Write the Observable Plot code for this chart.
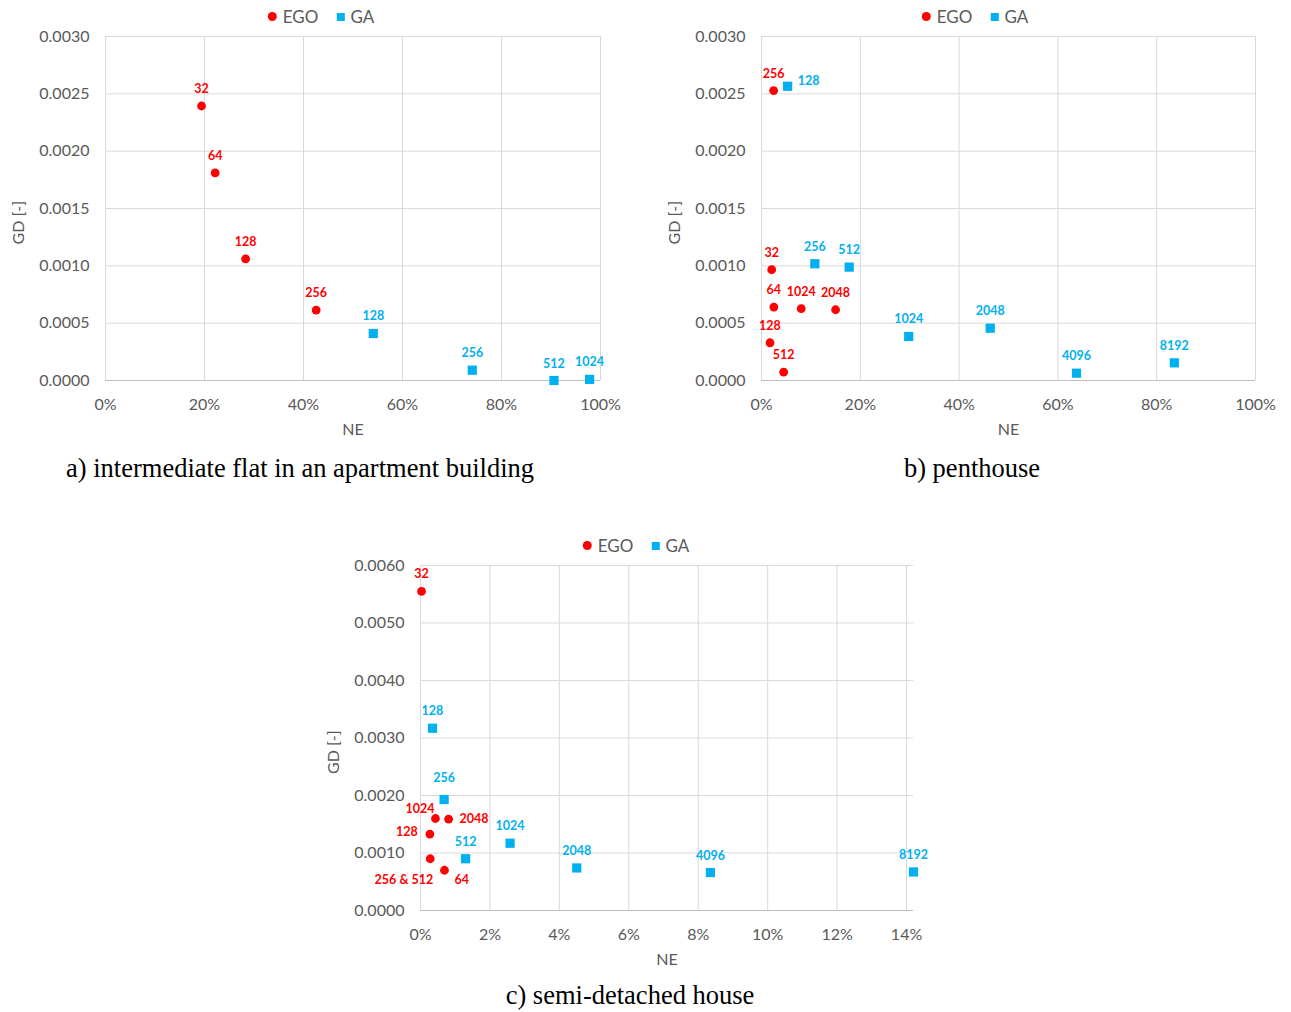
<!DOCTYPE html>
<html>
<head>
<meta charset="utf-8">
<script src="https://cdn.jsdelivr.net/npm/d3@7"></script>
<script src="https://cdn.jsdelivr.net/npm/@observablehq/plot@0.6"></script>
<style>
  body { margin: 0; background: #fff; }
  #page { position: relative; width: 1291px; height: 1012px; overflow: hidden; background: #fff; }
  .panel { position: absolute; }
  .legend {
    position: absolute; transform: translateX(-50%); display: flex; align-items: center;
    font: 17px Lato, sans-serif; color: #595959; white-space: nowrap; line-height: 1;
  }
  .legend .sw { display: inline-block; margin-right: 6px; }
  .legend .item { display: inline-flex; align-items: center; margin: 0 9px; }
  .caption {
    position: absolute; transform: translateX(-50%); white-space: nowrap;
    font: 26.5px "Liberation Serif", "Times New Roman", serif; line-height: 1; color: #000;
  }
</style>
</head>
<body>
<div id="page"></div>
<script>
// ---- a) intermediate flat in an apartment building ----
const flatEgoLabels = ["32", "64", "128", "256"];
const flatEgoNE = [0.194, 0.2215, 0.283, 0.4256];
const flatEgoGD = [0.002394, 0.00181, 0.00106, 0.000614];
const flatGaLabels = ["128", "256", "512", "1024"];
const flatGaNE = [0.541, 0.741, 0.906, 0.978];
const flatGaGD = [0.00041, 0.00009, 0.0, 0.00001];

// ---- b) penthouse ----
const pentEgoLabels = ["32", "64", "128", "256", "512", "1024", "2048"];
const pentEgoNE = [0.0206, 0.025, 0.0172, 0.0246, 0.0449, 0.0804, 0.150];
const pentEgoGD = [0.000966, 0.00064, 0.000329, 0.002528, 0.0000724, 0.000626, 0.000617];
const pentGaLabels = ["128", "256", "512", "1024", "2048", "4096", "8192"];
const pentGaNE = [0.0529, 0.108, 0.1775, 0.298, 0.463, 0.6376, 0.8357];
const pentGaGD = [0.002566, 0.001018, 0.000989, 0.000384, 0.000456, 0.0000637, 0.000154];

// ---- c) semi-detached house ----
const semiEgoLabels = ["32", "64", "128", "256 & 512", "1024", "2048"];
const semiEgoNE = [0.0003, 0.0069, 0.0027, 0.0028, 0.0043, 0.0081];
const semiEgoGD = [0.00555, 0.0007, 0.00133, 0.0009, 0.0016, 0.00159];
const semiGaLabels = ["128", "256", "512", "1024", "2048", "4096", "8192"];
const semiGaNE = [0.00345, 0.0068, 0.013, 0.0258, 0.045, 0.0835, 0.142];
const semiGaGD = [0.00317, 0.00193, 0.0009, 0.00117, 0.00074, 0.00066, 0.00067];

// ---- axis ticks ----
const xTicksFull = [0, 0.2, 0.4, 0.6, 0.8, 1.0];
const yTicksSmall = [0, 0.0005, 0.001, 0.0015, 0.002, 0.0025, 0.003];
const xTicksSemi = [0, 0.02, 0.04, 0.06, 0.08, 0.10, 0.12, 0.14];
const yTicksSemi = [0, 0.001, 0.002, 0.003, 0.004, 0.005, 0.006];

const seriesNames = ["EGO", "GA"];
const captions = ["a) intermediate flat in an apartment building", "b) penthouse", "c) semi-detached house"];

const RED = "#ff0000";
const BLUE = "#00b0f0";
const GRID = "#d9d9d9";
const TEXT = "#595959";

// Data labels sit above their marker unless moved aside to avoid overlaps
const defaultPlacement = {textAnchor: "middle", dx: 0, dy: -17};
const placements = {
  "b|GA|128": {textAnchor: "start", dx: 10, dy: -5},
  "c|EGO|1024": {textAnchor: "end", dx: -1, dy: -10},
  "c|EGO|2048": {textAnchor: "start", dx: 11, dy: 0},
  "c|EGO|128": {textAnchor: "end", dx: -12, dy: -2},
  "c|EGO|256 & 512": {textAnchor: "end", dx: 3, dy: 21},
  "c|EGO|64": {textAnchor: "start", dx: 10, dy: 10},
  "c|GA|256": {textAnchor: "middle", dx: 0, dy: -22}
};

function rows(labels, ne, gd, series) {
  return labels.map((label, i) => ({label, ne: ne[i], gd: gd[i], series}));
}

function labelMarks(data, key, fill) {
  const groups = d3.group(data, d => JSON.stringify(placements[`${key}|${d.series}|${d.label}`] ?? defaultPlacement));
  return Array.from(groups, ([p, subset]) => Plot.text(subset, {
    x: "ne", y: "gd", text: "label", fill, fontSize: 12.5, fontWeight: "bold",
    fontFamily: "Lato, sans-serif", ...JSON.parse(p)
  }));
}

function scatter({key, ego, ga, xDomain, xTicks, yDomain, yTicks, width, height, marginRight}) {
  return Plot.plot({
    width, height,
    marginLeft: 105, marginRight, marginTop: 36, marginBottom: height - 36 - (key === "c" ? 345 : 344),
    style: {fontFamily: "Lato, sans-serif", fontSize: "16px", color: TEXT, background: "transparent", overflow: "visible"},
    x: {domain: xDomain},
    y: {domain: yDomain},
    marks: [
      Plot.gridX(xTicks, {stroke: GRID, strokeOpacity: 1}),
      Plot.gridY(yTicks, {stroke: GRID, strokeOpacity: 1}),
      Plot.ruleY([0], {stroke: "#bfbfbf"}),
      Plot.dot(ego, {x: "ne", y: "gd", r: 4.4, fill: RED, symbol: "circle"}),
      Plot.dot(ga, {x: "ne", y: "gd", r: 5.2, fill: BLUE, symbol: "square"}),
      ...labelMarks(ego, key, RED),
      ...labelMarks(ga, key, BLUE),
      Plot.axisX({ticks: xTicks, tickFormat: d3.format(".0%"), tickSize: 0, tickPadding: 18, label: null}),
      Plot.axisY({ticks: yTicks, tickFormat: d3.format(".4f"), tickSize: 0, tickPadding: 16, label: null}),
      Plot.text(["NE"], {frameAnchor: "bottom", dy: 54, fontSize: 16, fill: TEXT}),
      Plot.text(["GD [-]"], {frameAnchor: "left", dx: -87, dy: 36, rotate: -90, fontSize: 16, fill: TEXT})
    ]
  });
}

function legend(centerX, centerY) {
  const div = document.createElement("div");
  div.className = "legend";
  div.style.left = centerX + "px";
  div.style.top = (centerY - 9) + "px";
  div.innerHTML =
    `<span class="item"><span class="sw" style="width:9px;height:9px;border-radius:50%;background:${RED}"></span>${seriesNames[0]}</span>` +
    `<span class="item"><span class="sw" style="width:8px;height:8px;background:${BLUE}"></span>${seriesNames[1]}</span>`;
  return div;
}

function caption(text, centerX, top) {
  const div = document.createElement("div");
  div.className = "caption";
  div.style.left = centerX + "px";
  div.style.top = top + "px";
  div.textContent = text;
  return div;
}

const page = document.getElementById("page");

const panels = [
  {
    key: "a", left: 0, top: 0, width: 640, height: 440, marginRight: 40,
    ego: rows(flatEgoLabels, flatEgoNE, flatEgoGD, "EGO"),
    ga: rows(flatGaLabels, flatGaNE, flatGaGD, "GA"),
    xDomain: [0, 1], xTicks: xTicksFull, yDomain: [0, 0.003], yTicks: yTicksSmall,
    legendX: 321, captionX: 300, captionTop: 455, caption: captions[0]
  },
  {
    key: "b", left: 656, top: 0, width: 635, height: 440, marginRight: 36,
    ego: rows(pentEgoLabels, pentEgoNE, pentEgoGD, "EGO"),
    ga: rows(pentGaLabels, pentGaNE, pentGaGD, "GA"),
    xDomain: [0, 1], xTicks: xTicksFull, yDomain: [0, 0.003], yTicks: yTicksSmall,
    legendX: 975, captionX: 972, captionTop: 455, caption: captions[1]
  },
  {
    key: "c", left: 315, top: 529, width: 638, height: 441, marginRight: 40,
    ego: rows(semiEgoLabels, semiEgoNE, semiEgoGD, "EGO"),
    ga: rows(semiGaLabels, semiGaNE, semiGaGD, "GA"),
    xDomain: [0, 0.142], xTicks: xTicksSemi, yDomain: [0, 0.006], yTicks: yTicksSemi,
    legendX: 636, captionX: 630, captionTop: 982, caption: captions[2]
  }
];

for (const p of panels) {
  const holder = document.createElement("div");
  holder.className = "panel";
  holder.style.left = p.left + "px";
  holder.style.top = p.top + "px";
  holder.appendChild(scatter(p));
  page.appendChild(holder);
  page.appendChild(legend(p.legendX, p.top + 17));
  page.appendChild(caption(p.caption, p.captionX, p.captionTop));
}
</script>
</body>
</html>
